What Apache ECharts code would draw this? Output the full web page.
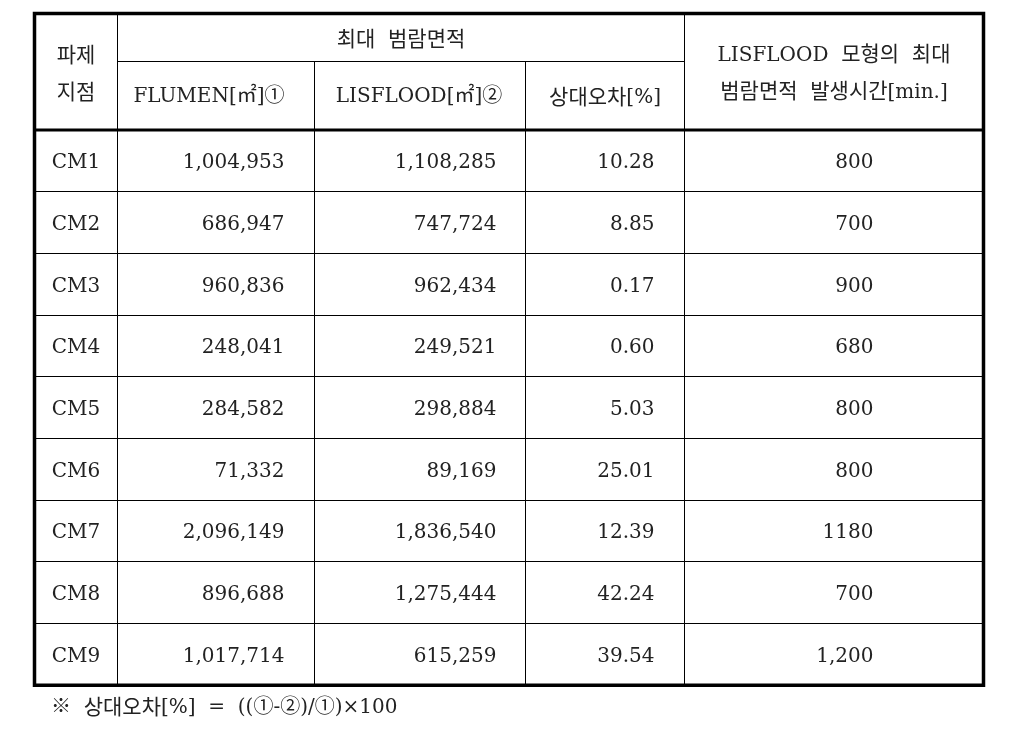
<!DOCTYPE html>
<html>
<head>
<meta charset="utf-8">
<script src="https://cdn.jsdelivr.net/npm/echarts@6/dist/echarts.min.js"></script>
<style>
  html, body { margin: 0; padding: 0; background: #fff; }
  #main { width: 1019px; height: 738px; }
</style>
</head>
<body>
<div id="main"></div>
<script>
// 표 데이터
const sites = ['CM1', 'CM2', 'CM3', 'CM4', 'CM5', 'CM6', 'CM7', 'CM8', 'CM9']
const flumenArea = [1004953, 686947, 960836, 248041, 284582, 71332, 2096149, 896688, 1017714]
const lisfloodArea = [1108285, 747724, 962434, 249521, 298884, 89169, 1836540, 1275444, 615259]
const relError = [10.28, 8.85, 0.17, 0.60, 5.03, 25.01, 12.39, 42.24, 39.54]
// 원본 표기 그대로 (1180 / 1,200)
const peakTime = ['800', '700', '900', '680', '800', '800', '1180', '700', '1,200']
const footnote = '※  상대오차[%]  =  ((①-②)/①)×100'

// 레이아웃 (축 단위 = px)
const colEdges = [0, 83, 280, 491, 650, 949]
const headerEdges = [0, 48, 116.5]
const rowHeight = 61.7
const rowEdges = headerEdges.concat(sites.map((s, i) => 116.5 + (i + 1) * rowHeight))

const FONT = "'DejaVu Serif', 'Noto Sans CJK KR', serif"
const CJK_FONT = "'Noto Sans CJK KR'"
const TEXT_COLOR = '#222'

// 한글은 조금 크게 (원본 바탕체 폭에 맞춤), 라틴 글자는 기준선 맞추려고 살짝 내림
const HANGUL_RE = /([\uAC00-\uD7A3]+)/
function toRich (text) {
  if (!HANGUL_RE.test(text)) return text
  return text.split('\n').map(line =>
    line.split(HANGUL_RE).filter(s => s !== '').map(s =>
      HANGUL_RE.test(s) ? '{k|' + s + '}' : '{l|' + s + '}'
    ).join('')
  ).join('\n')
}
function richStyles (lineHeight) {
  return {
    k: { fontFamily: CJK_FONT, fontSize: 21, lineHeight: lineHeight, color: TEXT_COLOR, fill: TEXT_COLOR },
    l: { fontFamily: FONT, fontSize: 20, lineHeight: lineHeight, padding: [4, 0, 0, 0], color: TEXT_COLOR, fill: TEXT_COLOR }
  }
}

const cells = [
  { c: [0, 1], r: [0, 2], text: '파제\n지점', align: 'center', dy: 1 },
  { c: [1, 4], r: [0, 1], text: '최대  범람면적', align: 'center', dy: 1 },
  { c: [1, 2], r: [1, 2], text: 'FLUMEN[㎡]①', align: 'center', dx: -7, dy: 1 },
  { c: [2, 3], r: [1, 2], text: 'LISFLOOD[㎡]②', align: 'center', dx: -1, dy: 1 },
  { c: [3, 4], r: [1, 2], text: '상대오차[%]', align: 'center', dy: 0 },
  { c: [4, 5], r: [0, 2], text: 'LISFLOOD  모형의  최대\n범람면적  발생시간[min.]', align: 'center', dy: 0 }
]
sites.forEach((name, i) => {
  const r = [i + 2, i + 3]
  cells.push({ c: [0, 1], r, text: name, align: 'center', dy: 2 })
  cells.push({ c: [1, 2], r, text: flumenArea[i].toLocaleString('en-US'), align: 'right', pad: 30, dy: 2 })
  cells.push({ c: [2, 3], r, text: lisfloodArea[i].toLocaleString('en-US'), align: 'right', pad: 29, dy: 2 })
  cells.push({ c: [3, 4], r, text: relError[i].toFixed(2), align: 'right', pad: 30, dy: 2 })
  cells.push({ c: [4, 5], r, text: peakTime[i], align: 'right', pad: 110, dy: 2 })
})

function snap (v) {
  return Math.round(v - 0.5) + 0.5
}

function renderCell (params, api) {
  const cell = cells[params.dataIndex]
  const p0 = api.coord([colEdges[cell.c[0]], rowEdges[cell.r[0]]])
  const p1 = api.coord([colEdges[cell.c[1]], rowEdges[cell.r[1]]])
  const x0 = snap(p0[0]), y0 = snap(p0[1]), x1 = snap(p1[0]), y1 = snap(p1[1])
  const tx = cell.align === 'right' ? x1 - cell.pad : (x0 + x1) / 2 + (cell.dx || 0)
  return {
    type: 'group',
    children: [
      {
        type: 'rect',
        shape: { x: x0, y: y0, width: x1 - x0, height: y1 - y0 },
        style: { fill: 'none', stroke: '#000', lineWidth: 1 }
      },
      {
        type: 'text',
        x: tx,
        y: (y0 + y1) / 2 + (cell.dy || 0),
        style: {
          text: toRich(cell.text),
          rich: richStyles(37),
          fontFamily: FONT,
          fontSize: 20,
          align: cell.align,
          verticalAlign: 'middle',
          fill: TEXT_COLOR
        }
      }
    ]
  }
}

// 굵은 선: 바깥 테두리 + 머리행 아래
function renderFrame (params, api) {
  const tl = api.coord([colEdges[0], rowEdges[0]])
  const br = api.coord([colEdges[colEdges.length - 1], rowEdges[rowEdges.length - 1]])
  const hy = api.coord([0, rowEdges[2]])[1]
  return {
    type: 'group',
    children: [
      {
        type: 'line',
        shape: { x1: tl[0], y1: hy, x2: br[0], y2: hy },
        style: { stroke: '#000', lineWidth: 3 }
      },
      {
        type: 'rect',
        shape: { x: tl[0], y: tl[1], width: br[0] - tl[0], height: br[1] - tl[1] },
        style: { fill: 'none', stroke: '#000', lineWidth: 3.5 }
      }
    ]
  }
}

const chart = echarts.init(document.getElementById('main'))
chart.setOption({
  animation: false,
  title: {
    text: toRich(footnote),
    left: 46,
    top: 688,
    textStyle: {
      fontFamily: FONT,
      fontSize: 20,
      fontWeight: 'normal',
      color: TEXT_COLOR,
      rich: richStyles(26)
    }
  },
  grid: { left: 34.5, top: 13.5, width: 949, height: 672 },
  xAxis: { type: 'value', min: 0, max: 949, show: false },
  yAxis: { type: 'value', min: 0, max: 672, inverse: true, show: false },
  series: [
    {
      type: 'custom',
      renderItem: renderCell,
      clip: false,
      silent: true,
      data: cells.map(cell => [colEdges[cell.c[0]], rowEdges[cell.r[0]]])
    },
    {
      type: 'custom',
      renderItem: renderFrame,
      clip: false,
      silent: true,
      z: 3,
      data: [[0, 0]]
    }
  ]
})
</script>
</body>
</html>
